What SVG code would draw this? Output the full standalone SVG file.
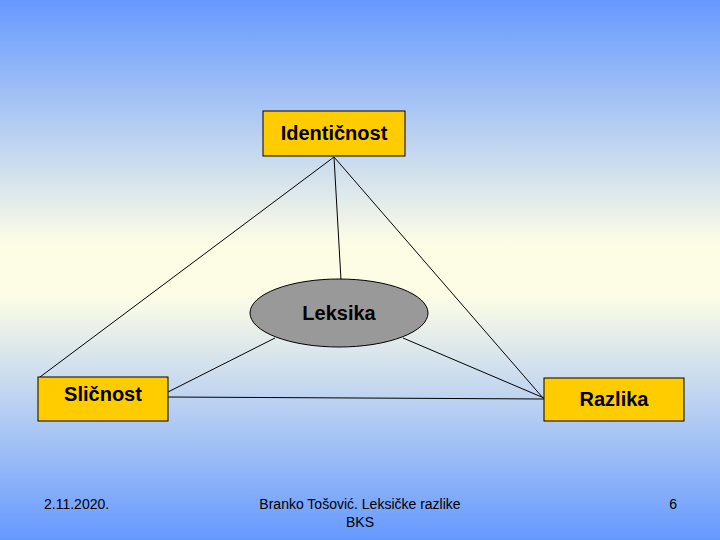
<svg xmlns="http://www.w3.org/2000/svg" width="720" height="540" viewBox="0 0 720 540">
<defs>
<linearGradient id="bg" x1="0" y1="0" x2="0" y2="1">
<stop offset="0" stop-color="#6699ff"/>
<stop offset="0.45" stop-color="#fdfde6"/>
<stop offset="0.55" stop-color="#fdfde6"/>
<stop offset="1" stop-color="#6699ff"/>
</linearGradient>
<style>
.box{fill:#ffcc00;stroke:#000;stroke-width:1}
.lbl{font-family:"Liberation Sans",Arial,sans-serif;font-size:20px;font-weight:bold;fill:#000;text-anchor:middle}
.ft{font-family:"Liberation Sans",Arial,sans-serif;font-size:14px;fill:#000}
.c line{stroke:#000;stroke-width:1}
</style>
</defs>
<rect width="720" height="540" fill="url(#bg)"/>
<g class="c" id="connectors">
<line x1="334" y1="157" x2="40" y2="377"/>
<line x1="334" y1="157" x2="543" y2="398"/>
<line x1="334" y1="157" x2="341" y2="280"/>
<line x1="168" y1="397" x2="544" y2="399"/>
<line x1="275" y1="338" x2="168" y2="392"/>
<line x1="403" y1="338" x2="544" y2="398"/>
</g>
<g id="identicnost"><rect class="box" x="263" y="111" width="142" height="45"/><text class="lbl" x="334" y="140">Identičnost</text></g>
<g id="leksika"><ellipse cx="339" cy="313" rx="89" ry="34" fill="#999" stroke="#000"/><text class="lbl" x="339" y="320">Leksika</text></g>
<g id="slicnost"><rect class="box" x="38" y="377" width="130" height="44"/><text class="lbl" x="103" y="401">Sličnost</text></g>
<g id="razlika"><rect class="box" x="544" y="378" width="140" height="43"/><text class="lbl" x="614" y="406">Razlika</text></g>
<text class="ft" x="44" y="509">2.11.2020.</text>
<text class="ft" x="360" y="509" text-anchor="middle">Branko Tošović. Leksičke razlike</text>
<text class="ft" x="360" y="527" text-anchor="middle">BKS</text>
<text class="ft" x="677" y="509" text-anchor="end">6</text>
</svg>
